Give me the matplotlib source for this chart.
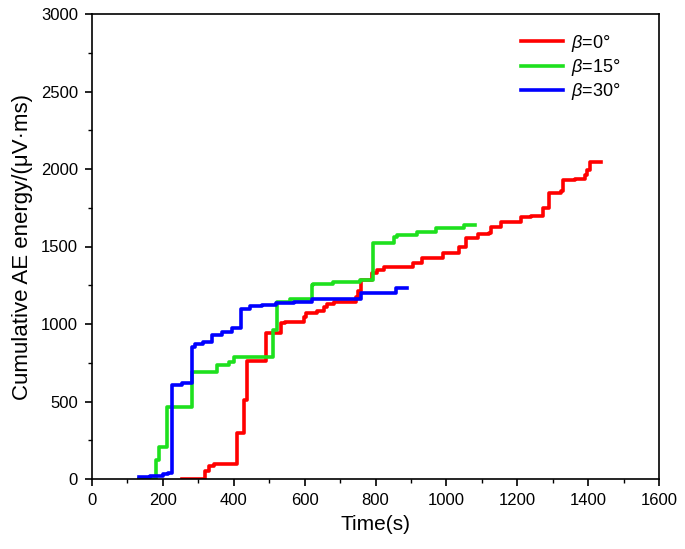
import numpy as np
import matplotlib
matplotlib.use('Agg')
import matplotlib.pyplot as plt
from matplotlib.ticker import MultipleLocator

plt.rcParams['font.family'] = ['Liberation Sans', 'DejaVu Sans']
plt.rcParams['mathtext.fontset'] = 'custom'
plt.rcParams['mathtext.it'] = 'Liberation Sans:italic'
plt.rcParams['mathtext.rm'] = 'Liberation Sans'

# Cumulative AE energy (step curves, value holds after each time)
red_t = [253, 320, 330, 345, 410, 430, 438, 490, 533, 545, 599, 605, 636, 655, 662, 684,
         745, 752, 760, 790, 805, 825, 905, 930, 990, 1037, 1056, 1088, 1121, 1127, 1155,
         1211, 1239, 1272, 1291, 1324, 1330, 1362, 1390, 1398, 1406, 1437]
red_e = [0, 50, 85, 100, 295, 510, 760, 940, 1005, 1015, 1045, 1070, 1085, 1110, 1130, 1140,
         1175, 1215, 1283, 1330, 1350, 1365, 1393, 1425, 1458, 1497, 1555, 1580, 1590, 1625, 1655,
         1692, 1700, 1748, 1845, 1855, 1928, 1935, 1961, 1993, 2047, 2047]

green_t = [133, 180, 188, 212, 283, 353, 387, 400, 438, 500, 510, 523, 560, 620, 625, 680,
           755, 792, 853, 860, 918, 971, 1050, 1080]
green_e = [0, 122, 207, 465, 690, 735, 755, 785, 785, 790, 960, 1140, 1160, 1250, 1260, 1270,
           1285, 1520, 1560, 1575, 1595, 1620, 1640, 1640]

blue_t = [133, 165, 200, 215, 226, 255, 283, 290, 312, 340, 368, 395, 420, 445, 480, 520,
          570, 620, 760, 858, 890]
blue_e = [15, 22, 32, 38, 607, 620, 851, 870, 885, 930, 950, 975, 1100, 1115, 1125, 1135,
          1145, 1160, 1200, 1230, 1230]

labels = [r'$\beta$=0°', r'$\beta$=15°', r'$\beta$=30°']
colors = ['#ff0000', '#1ee01e', '#0000ff']

fig = plt.figure(figsize=(6.85, 5.49), dpi=100)
ax = fig.add_axes([92 / 685, 1 - 479 / 549, (659 - 92) / 685, (479 - 14) / 549])

for t, e, lab, c in zip([red_t, green_t, blue_t], [red_e, green_e, blue_e], labels, colors):
    ax.plot(t, e, drawstyle='steps-post', color=c, lw=2.6, label=lab)

ax.set_xlim(0, 1600)
ax.set_ylim(0, 3000)
ax.xaxis.set_major_locator(MultipleLocator(200))
ax.xaxis.set_minor_locator(MultipleLocator(100))
ax.yaxis.set_major_locator(MultipleLocator(500))
ax.yaxis.set_minor_locator(MultipleLocator(250))
ax.tick_params(which='major', direction='out', length=5, width=1.2, labelsize=12, pad=5)
ax.tick_params(which='minor', direction='out', length=3, width=1)
for s in ax.spines.values():
    s.set_linewidth(1.2)

ax.set_xlabel('Time(s)', fontsize=15, labelpad=5)
ax.set_ylabel('Cumulative AE energy/(μV·ms)', fontsize=16, labelpad=6)

ax.legend(loc='upper right', frameon=False, fontsize=13, handlelength=2.35,
          handletextpad=0.4, labelspacing=0.18, bbox_to_anchor=(0.96, 0.995))

fig.savefig('out.png', dpi=100)
